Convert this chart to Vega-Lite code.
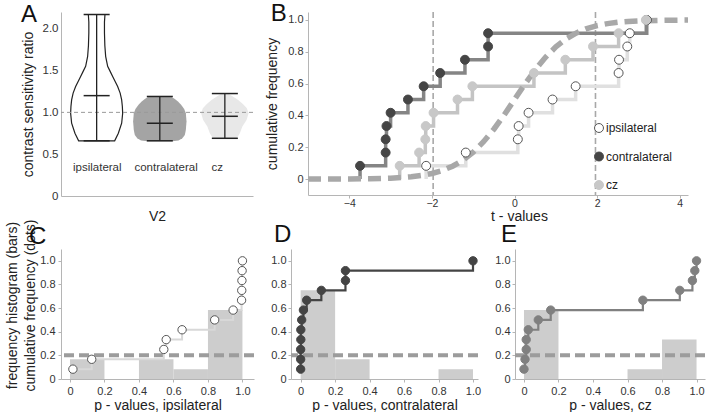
{
  "$schema": "https://vega.github.io/schema/vega-lite/v6.json",
  "background": "white",
  "padding": {"left": 5, "top": 2, "right": 0, "bottom": 0},
  "config": {
    "font": "Liberation Sans",
    "view": {"stroke": null},
    "axis": {"grid": false, "domainColor": "#b5b5b5", "tickColor": "#b5b5b5", "labelColor": "#333333", "titleColor": "#222222", "labelFontSize": 11, "titleFontSize": 14, "titleFontWeight": "normal", "labelFont": "Liberation Sans", "titleFont": "Liberation Sans", "tickSize": 3, "labelPadding": 2, "labelOverlap": false},
    "legend": {"labelFont": "Liberation Sans"}
  },
  "datasets": {
    "violin": [
      {"g": "ipsilateral", "v": 0.66, "lo": 0.212, "hi": 0.788},
      {"g": "ipsilateral", "v": 0.75, "lo": 0.153, "hi": 0.847},
      {"g": "ipsilateral", "v": 0.87, "lo": 0.1, "hi": 0.9},
      {"g": "ipsilateral", "v": 0.99, "lo": 0.084, "hi": 0.916},
      {"g": "ipsilateral", "v": 1.07, "lo": 0.089, "hi": 0.911},
      {"g": "ipsilateral", "v": 1.15, "lo": 0.1, "hi": 0.9},
      {"g": "ipsilateral", "v": 1.23, "lo": 0.124, "hi": 0.876},
      {"g": "ipsilateral", "v": 1.31, "lo": 0.164, "hi": 0.836},
      {"g": "ipsilateral", "v": 1.37, "lo": 0.204, "hi": 0.796},
      {"g": "ipsilateral", "v": 1.43, "lo": 0.244, "hi": 0.756},
      {"g": "ipsilateral", "v": 1.49, "lo": 0.284, "hi": 0.716},
      {"g": "ipsilateral", "v": 1.55, "lo": 0.324, "hi": 0.676},
      {"g": "ipsilateral", "v": 1.61, "lo": 0.34, "hi": 0.66},
      {"g": "ipsilateral", "v": 1.67, "lo": 0.356, "hi": 0.644},
      {"g": "ipsilateral", "v": 1.8, "lo": 0.369, "hi": 0.631},
      {"g": "ipsilateral", "v": 1.95, "lo": 0.375, "hi": 0.625},
      {"g": "ipsilateral", "v": 2.08, "lo": 0.375, "hi": 0.625},
      {"g": "ipsilateral", "v": 2.17, "lo": 0.367, "hi": 0.633},
      {"g": "contralateral", "v": 0.655, "lo": 1.31, "hi": 1.71},
      {"g": "contralateral", "v": 0.665, "lo": 1.21, "hi": 1.81},
      {"g": "contralateral", "v": 0.69, "lo": 1.15, "hi": 1.87},
      {"g": "contralateral", "v": 0.73, "lo": 1.11, "hi": 1.91},
      {"g": "contralateral", "v": 0.79, "lo": 1.094, "hi": 1.926},
      {"g": "contralateral", "v": 0.89, "lo": 1.083, "hi": 1.937},
      {"g": "contralateral", "v": 0.99, "lo": 1.094, "hi": 1.926},
      {"g": "contralateral", "v": 1.04, "lo": 1.12, "hi": 1.9},
      {"g": "contralateral", "v": 1.09, "lo": 1.17, "hi": 1.85},
      {"g": "contralateral", "v": 1.13, "lo": 1.22, "hi": 1.8},
      {"g": "contralateral", "v": 1.16, "lo": 1.27, "hi": 1.75},
      {"g": "contralateral", "v": 1.185, "lo": 1.32, "hi": 1.7},
      {"g": "contralateral", "v": 1.195, "lo": 1.36, "hi": 1.66},
      {"g": "cz", "v": 0.69, "lo": 2.36, "hi": 2.74},
      {"g": "cz", "v": 0.75, "lo": 2.31, "hi": 2.79},
      {"g": "cz", "v": 0.83, "lo": 2.27, "hi": 2.83},
      {"g": "cz", "v": 0.91, "lo": 2.203, "hi": 2.897},
      {"g": "cz", "v": 0.99, "lo": 2.171, "hi": 2.929},
      {"g": "cz", "v": 1.05, "lo": 2.198, "hi": 2.902},
      {"g": "cz", "v": 1.1, "lo": 2.262, "hi": 2.838},
      {"g": "cz", "v": 1.15, "lo": 2.342, "hi": 2.758},
      {"g": "cz", "v": 1.19, "lo": 2.422, "hi": 2.678},
      {"g": "cz", "v": 1.225, "lo": 2.5, "hi": 2.6}
    ],
    "whisk": [
      {"g": "ipsilateral", "c": 0.5, "lo": 0.66, "hi": 2.17},
      {"g": "contralateral", "c": 1.51, "lo": 0.66, "hi": 1.19},
      {"g": "cz", "c": 2.55, "lo": 0.69, "hi": 1.225}
    ],
    "caps": [
      {"g": "ipsilateral", "x1": 0.292, "x2": 0.708, "y": 0.66},
      {"g": "ipsilateral", "x1": 0.292, "x2": 0.708, "y": 2.17},
      {"g": "ipsilateral", "x1": 0.292, "x2": 0.708, "y": 1.2},
      {"g": "contralateral", "x1": 1.302, "x2": 1.718, "y": 0.66},
      {"g": "contralateral", "x1": 1.302, "x2": 1.718, "y": 1.19},
      {"g": "contralateral", "x1": 1.302, "x2": 1.718, "y": 0.87},
      {"g": "cz", "x1": 2.342, "x2": 2.758, "y": 0.69},
      {"g": "cz", "x1": 2.342, "x2": 2.758, "y": 1.225},
      {"g": "cz", "x1": 2.342, "x2": 2.758, "y": 0.953}
    ],
    "alabels": [
      {"label": "ipsilateral", "x": 0.51, "y": 0.33},
      {"label": "contralateral", "x": 1.61, "y": 0.33},
      {"label": "cz", "x": 2.43, "y": 0.33}
    ],
    "bcdf": [
      {"g": "contralateral", "t": -3.74, "f": 0},
      {"g": "contralateral", "t": -3.74, "f": 0.0833},
      {"g": "contralateral", "t": -3.12, "f": 0.1667},
      {"g": "contralateral", "t": -3.12, "f": 0.25},
      {"g": "contralateral", "t": -3.1, "f": 0.3333},
      {"g": "contralateral", "t": -3.0, "f": 0.4167},
      {"g": "contralateral", "t": -2.58, "f": 0.5},
      {"g": "contralateral", "t": -2.2, "f": 0.5833},
      {"g": "contralateral", "t": -1.8, "f": 0.6667},
      {"g": "contralateral", "t": -1.2, "f": 0.75},
      {"g": "contralateral", "t": -0.64, "f": 0.8333},
      {"g": "contralateral", "t": -0.64, "f": 0.9167},
      {"g": "contralateral", "t": 3.2, "f": 1.0},
      {"g": "ipsilateral", "t": -2.14, "f": 0},
      {"g": "ipsilateral", "t": -2.14, "f": 0.0833},
      {"g": "ipsilateral", "t": -1.18, "f": 0.1667},
      {"g": "ipsilateral", "t": 0.08, "f": 0.25},
      {"g": "ipsilateral", "t": 0.1, "f": 0.3333},
      {"g": "ipsilateral", "t": 0.34, "f": 0.4167},
      {"g": "ipsilateral", "t": 0.92, "f": 0.5},
      {"g": "ipsilateral", "t": 1.48, "f": 0.5833},
      {"g": "ipsilateral", "t": 2.52, "f": 0.6667},
      {"g": "ipsilateral", "t": 2.53, "f": 0.75},
      {"g": "ipsilateral", "t": 2.73, "f": 0.8333},
      {"g": "ipsilateral", "t": 2.79, "f": 0.9167},
      {"g": "ipsilateral", "t": 3.2, "f": 1.0},
      {"g": "cz", "t": -2.78, "f": 0},
      {"g": "cz", "t": -2.78, "f": 0.0833},
      {"g": "cz", "t": -2.31, "f": 0.1667},
      {"g": "cz", "t": -2.16, "f": 0.25},
      {"g": "cz", "t": -2.15, "f": 0.3333},
      {"g": "cz", "t": -1.96, "f": 0.4167},
      {"g": "cz", "t": -1.38, "f": 0.5},
      {"g": "cz", "t": -1.02, "f": 0.5833},
      {"g": "cz", "t": 0.47, "f": 0.6667},
      {"g": "cz", "t": 1.23, "f": 0.75},
      {"g": "cz", "t": 1.9, "f": 0.8333},
      {"g": "cz", "t": 2.52, "f": 0.9167},
      {"g": "cz", "t": 3.18, "f": 1.0}
    ],
    "tcurve": [
      {"t": -5.0, "f": 0.0002}, {"t": -4.5, "f": 0.0004}, {"t": -4.0, "f": 0.001}, {"t": -3.5, "f": 0.0025},
      {"t": -3.0, "f": 0.006}, {"t": -2.75, "f": 0.0094}, {"t": -2.5, "f": 0.0147}, {"t": -2.25, "f": 0.023},
      {"t": -2.0, "f": 0.0354}, {"t": -1.75, "f": 0.054}, {"t": -1.5, "f": 0.081}, {"t": -1.25, "f": 0.1186},
      {"t": -1.0, "f": 0.1694}, {"t": -0.75, "f": 0.2345}, {"t": -0.5, "f": 0.3135}, {"t": -0.25, "f": 0.4036},
      {"t": 0.0, "f": 0.5}, {"t": 0.25, "f": 0.5964}, {"t": 0.5, "f": 0.6865}, {"t": 0.75, "f": 0.7655},
      {"t": 1.0, "f": 0.8306}, {"t": 1.25, "f": 0.8814}, {"t": 1.5, "f": 0.919}, {"t": 1.75, "f": 0.946},
      {"t": 2.0, "f": 0.9646}, {"t": 2.25, "f": 0.977}, {"t": 2.5, "f": 0.9853}, {"t": 2.75, "f": 0.9906},
      {"t": 3.0, "f": 0.994}, {"t": 3.5, "f": 0.9975}, {"t": 4.0, "f": 0.999}, {"t": 4.2, "f": 0.9993}
    ],
    "hist": [
      {"panel": "C", "b0": 0.0, "b1": 0.2, "n": 0.1667},
      {"panel": "C", "b0": 0.4, "b1": 0.6, "n": 0.1667},
      {"panel": "C", "b0": 0.6, "b1": 0.8, "n": 0.0833},
      {"panel": "C", "b0": 0.8, "b1": 1.0, "n": 0.5833},
      {"panel": "D", "b0": 0.0, "b1": 0.2, "n": 0.75},
      {"panel": "D", "b0": 0.2, "b1": 0.4, "n": 0.1667},
      {"panel": "D", "b0": 0.8, "b1": 1.0, "n": 0.0833},
      {"panel": "E", "b0": 0.0, "b1": 0.2, "n": 0.5833},
      {"panel": "E", "b0": 0.6, "b1": 0.8, "n": 0.0833},
      {"panel": "E", "b0": 0.8, "b1": 1.0, "n": 0.3333}
    ],
    "pcdf": [
      {"panel": "C", "p": 0.017, "f": 0.0833}, {"panel": "C", "p": 0.126, "f": 0.1667}, {"panel": "C", "p": 0.544, "f": 0.25},
      {"panel": "C", "p": 0.558, "f": 0.3333}, {"panel": "C", "p": 0.65, "f": 0.4167}, {"panel": "C", "p": 0.839, "f": 0.5},
      {"panel": "C", "p": 0.946, "f": 0.5833}, {"panel": "C", "p": 0.995, "f": 0.6667}, {"panel": "C", "p": 0.996, "f": 0.75},
      {"panel": "C", "p": 0.997, "f": 0.8333}, {"panel": "C", "p": 0.998, "f": 0.9167}, {"panel": "C", "p": 1.0, "f": 1.0},
      {"panel": "D", "p": 0.0, "f": 0.0833}, {"panel": "D", "p": 0.0, "f": 0.1667}, {"panel": "D", "p": 0.0, "f": 0.25},
      {"panel": "D", "p": 0.001, "f": 0.3333}, {"panel": "D", "p": 0.001, "f": 0.4167}, {"panel": "D", "p": 0.006, "f": 0.5},
      {"panel": "D", "p": 0.016, "f": 0.5833}, {"panel": "D", "p": 0.035, "f": 0.6667}, {"panel": "D", "p": 0.12, "f": 0.75},
      {"panel": "D", "p": 0.26, "f": 0.8333}, {"panel": "D", "p": 0.26, "f": 0.9167}, {"panel": "D", "p": 1.0, "f": 1.0},
      {"panel": "E", "p": 0.0, "f": 0.0833}, {"panel": "E", "p": 0.006, "f": 0.1667}, {"panel": "E", "p": 0.013, "f": 0.25},
      {"panel": "E", "p": 0.013, "f": 0.3333}, {"panel": "E", "p": 0.025, "f": 0.4167}, {"panel": "E", "p": 0.083, "f": 0.5},
      {"panel": "E", "p": 0.155, "f": 0.5833}, {"panel": "E", "p": 0.689, "f": 0.6667}, {"panel": "E", "p": 0.903, "f": 0.75},
      {"panel": "E", "p": 0.976, "f": 0.8333}, {"panel": "E", "p": 0.99, "f": 0.9167}, {"panel": "E", "p": 1.0, "f": 1.0}
    ]
  },
  "concat": [
    {
      "hconcat": [
        {
          "width": 192,
          "height": 184,
          "layer": [
            {
              "data": {"name": "violin"},
              "mark": {"type": "area", "orient": "horizontal", "strokeWidth": 1.2},
              "encoding": {
                "y": {"field": "v", "type": "quantitative", "scale": {"domain": [0, 2.2], "nice": false, "zero": false},
                  "axis": {"values": [0, 0.5, 1, 1.5, 2], "labelExpr": "datum.value == 0 ? '0' : format(datum.value, '.1f')", "labelOverlap": false, "labelFontSize": 11.5, "title": ["", "contrast sensitivity ratio"], "titleLineHeight": 8, "tickSize": 0, "labelPadding": 3, "titlePadding": 7}},
                "x": {"field": "lo", "type": "quantitative", "scale": {"domain": [-0.07, 3.0], "nice": false, "zero": false},
                  "axis": {"title": "V2", "labels": false, "ticks": false, "titlePadding": 13}},
                "x2": {"field": "hi"},
                "fill": {"field": "g", "type": "nominal", "scale": {"domain": ["ipsilateral", "contralateral", "cz"], "range": ["#ffffff", "#a4a4a4", "#e8e8e8"]}, "legend": null},
                "stroke": {"field": "g", "type": "nominal", "scale": {"domain": ["ipsilateral", "contralateral", "cz"], "range": ["#222222", "rgba(0,0,0,0)", "rgba(0,0,0,0)"]}, "legend": null}
              }
            },
            {
              "data": {"values": [{"ref": 1}]},
              "mark": {"type": "rule", "strokeDash": [4, 3], "color": "#9a9a9a", "strokeWidth": 1},
              "encoding": {"y": {"field": "ref", "type": "quantitative"}}
            },
            {
              "data": {"name": "whisk"},
              "mark": {"type": "rule", "color": "#222222", "strokeWidth": 1.3},
              "encoding": {"x": {"field": "c", "type": "quantitative"}, "y": {"field": "lo", "type": "quantitative"}, "y2": {"field": "hi"}}
            },
            {
              "data": {"name": "caps"},
              "mark": {"type": "rule", "color": "#222222", "strokeWidth": 1.5},
              "encoding": {"x": {"field": "x1", "type": "quantitative"}, "x2": {"field": "x2"}, "y": {"field": "y", "type": "quantitative"}}
            },
            {
              "data": {"name": "alabels"},
              "mark": {"type": "text", "fontSize": 11.5, "color": "#333333", "baseline": "middle", "align": "center"},
              "encoding": {"x": {"field": "x", "type": "quantitative"}, "y": {"field": "y", "type": "quantitative"}, "text": {"field": "label"}}
            },
            {
              "data": {"values": [{}]},
              "mark": {"type": "text", "fontSize": 24, "color": "#111111", "baseline": "alphabetic", "align": "left"},
              "encoding": {"x": {"datum": -0.71}, "y": {"datum": 2.086}, "text": {"value": "A"}}
            }
          ]
        },
        {
          "width": 380,
          "height": 183,
          "layer": [
            {
              "data": {"values": [{"crit": -1.97}, {"crit": 1.96}]},
              "mark": {"type": "rule", "strokeDash": [6, 3], "color": "#a8a8a8", "strokeWidth": 1.6},
              "encoding": {"x": {"field": "crit", "type": "quantitative", "scale": {"domain": [-5, 4.2], "nice": false, "zero": false},
                  "axis": {"values": [-4, -2, 0, 2, 4], "labelOverlap": false, "labelFontSize": 10.5, "title": "t - values", "labelPadding": 0, "titlePadding": 1, "titleX": 211, "titleAlign": "center"}}}
            },
            {
              "data": {"name": "bcdf"},
              "transform": [{"filter": {"field": "g", "equal": "ipsilateral"}}],
              "mark": {"type": "line", "interpolate": "step-after", "color": "#e0e0e0", "strokeWidth": 3.5},
              "encoding": {"x": {"field": "t", "type": "quantitative"},
                "y": {"field": "f", "type": "quantitative", "scale": {"domain": [-0.1, 1.05], "nice": false, "zero": false},
                  "axis": {"tickCount": 6, "labelExpr": "datum.value == 0 ? '0' : format(datum.value, '.1f')", "labelOverlap": false, "title": "cumulative frequency", "titlePadding": 8}},
                "order": {"field": "f", "type": "quantitative"}}
            },
            {
              "data": {"name": "bcdf"},
              "transform": [{"filter": {"field": "g", "equal": "cz"}}],
              "mark": {"type": "line", "interpolate": "step-after", "color": "#c4c4c4", "strokeWidth": 3.5},
              "encoding": {"x": {"field": "t", "type": "quantitative"}, "y": {"field": "f", "type": "quantitative"}, "order": {"field": "f", "type": "quantitative"}}
            },
            {
              "data": {"name": "bcdf"},
              "transform": [{"filter": {"field": "g", "equal": "contralateral"}}],
              "mark": {"type": "line", "interpolate": "step-after", "color": "#858585", "strokeWidth": 3.5},
              "encoding": {"x": {"field": "t", "type": "quantitative"}, "y": {"field": "f", "type": "quantitative"}, "order": {"field": "f", "type": "quantitative"}}
            },
            {
              "data": {"name": "tcurve"},
              "mark": {"type": "line", "color": "#a8a8a8", "strokeWidth": 5.5, "strokeDash": [13, 7]},
              "encoding": {"x": {"field": "t", "type": "quantitative"}, "y": {"field": "f", "type": "quantitative"}}
            },
            {
              "data": {"name": "bcdf"},
              "transform": [{"filter": "datum.f > 0"}],
              "mark": {"type": "circle", "size": 80, "strokeWidth": 1, "opacity": 1},
              "encoding": {
                "x": {"field": "t", "type": "quantitative"},
                "y": {"field": "f", "type": "quantitative"},
                "fill": {"field": "g", "type": "nominal", "scale": {"domain": ["ipsilateral", "contralateral", "cz"], "range": ["#ffffff", "#454545", "#c8c8c8"]},
                  "legend": {"orient": "none", "legendX": 285, "legendY": 110, "title": null, "labelFontSize": 12, "labelColor": "#222222", "symbolSize": 80, "symbolType": "circle", "rowPadding": 14.5, "labelOffset": 1, "padding": 0, "symbolStrokeWidth": 1}},
                "stroke": {"field": "g", "type": "nominal", "scale": {"domain": ["ipsilateral", "contralateral", "cz"], "range": ["#555555", "#454545", "#c8c8c8"]}}
              }
            },
            {
              "data": {"values": [{}]},
              "mark": {"type": "text", "fontSize": 24, "color": "#111111", "baseline": "alphabetic", "align": "left"},
              "encoding": {"x": {"datum": -5.9}, "y": {"datum": 0.993}, "text": {"value": "B"}}
            }
          ]
        }
      ],
      "spacing": 55,
      "bounds": "flush",
      "resolve": {"scale": {"fill": "independent", "stroke": "independent"}, "legend": {"fill": "independent", "stroke": "independent"}}
    },
    {
      "hconcat": [
        {
          "width": 193,
          "height": 130,
          "layer": [
            {
              "data": {"name": "hist"},
              "transform": [{"filter": {"field": "panel", "equal": "C"}}],
              "mark": {"type": "rect", "color": "#cdcdcd"},
              "encoding": {
                "x": {"field": "b0", "type": "quantitative", "scale": {"domain": [-0.052, 1.067], "nice": false, "zero": false},
                  "axis": {"tickCount": 6, "labelExpr": "datum.value == 0 ? '0' : format(datum.value, '.1f')", "labelOverlap": false, "title": "p - values, ipsilateral", "labelPadding": 3, "titlePadding": 2}},
                "x2": {"field": "b1"},
                "y": {"field": "n", "type": "quantitative", "scale": {"domain": [0, 1.1], "nice": false, "zero": false},
                  "axis": {"tickCount": 6, "labelExpr": "datum.value == 0 ? '0' : format(datum.value, '.1f')", "labelOverlap": false, "title": ["frequency histogram  (bars)", "cumulative frequency (dots)"], "titleLineHeight": 18, "labelPadding": 3, "titlePadding": 2, "titleY": 56}},
                "y2": {"datum": 0}
              }
            },
            {
              "data": {"values": [{"ref": 0.2}]},
              "mark": {"type": "rule", "color": "#9c9c9c", "strokeWidth": 4, "strokeDash": [10, 5]},
              "encoding": {"y": {"field": "ref", "type": "quantitative"}}
            },
            {
              "data": {"name": "pcdf"},
              "transform": [{"filter": {"field": "panel", "equal": "C"}}],
              "mark": {"type": "line", "interpolate": "step-after", "color": "#d8d8d8", "strokeWidth": 2},
              "encoding": {"x": {"field": "p", "type": "quantitative"}, "y": {"field": "f", "type": "quantitative"}, "order": {"field": "f", "type": "quantitative"}}
            },
            {
              "data": {"name": "pcdf"},
              "transform": [{"filter": {"field": "panel", "equal": "C"}}],
              "mark": {"type": "circle", "size": 70, "fill": "#ffffff", "stroke": "#555555", "strokeWidth": 1, "opacity": 1},
              "encoding": {"x": {"field": "p", "type": "quantitative"}, "y": {"field": "f", "type": "quantitative"}}
            },
            {
              "data": {"values": [{}]},
              "mark": {"type": "text", "fontSize": 24, "color": "#111111", "baseline": "alphabetic", "align": "left"},
              "encoding": {"x": {"datum": -0.237}, "y": {"datum": 1.142}, "text": {"value": "C"}}
            }
          ]
        },
        {
          "width": 187,
          "height": 130,
          "layer": [
            {
              "data": {"name": "hist"},
              "transform": [{"filter": {"field": "panel", "equal": "D"}}],
              "mark": {"type": "rect", "color": "#cdcdcd"},
              "encoding": {
                "x": {"field": "b0", "type": "quantitative", "scale": {"domain": [-0.056, 1.029], "nice": false, "zero": false},
                  "axis": {"tickCount": 6, "labelExpr": "datum.value == 0 ? '0' : format(datum.value, '.1f')", "labelOverlap": false, "title": "p - values, contralateral", "labelPadding": 3, "titlePadding": 2}},
                "x2": {"field": "b1"},
                "y": {"field": "n", "type": "quantitative", "scale": {"domain": [0, 1.1], "nice": false, "zero": false},
                  "axis": {"tickCount": 6, "labelExpr": "datum.value == 0 ? '0' : format(datum.value, '.1f')", "labelOverlap": false, "title": null, "labelPadding": 2}},
                "y2": {"datum": 0}
              }
            },
            {
              "data": {"values": [{"ref": 0.2}]},
              "mark": {"type": "rule", "color": "#9c9c9c", "strokeWidth": 4, "strokeDash": [10, 5]},
              "encoding": {"y": {"field": "ref", "type": "quantitative"}}
            },
            {
              "data": {"name": "pcdf"},
              "transform": [{"filter": {"field": "panel", "equal": "D"}}],
              "mark": {"type": "line", "interpolate": "step-after", "color": "#444444", "strokeWidth": 2.2},
              "encoding": {"x": {"field": "p", "type": "quantitative"}, "y": {"field": "f", "type": "quantitative"}, "order": {"field": "f", "type": "quantitative"}}
            },
            {
              "data": {"name": "pcdf"},
              "transform": [{"filter": {"field": "panel", "equal": "D"}}],
              "mark": {"type": "circle", "size": 70, "fill": "#444444", "stroke": "#444444", "strokeWidth": 1, "opacity": 1},
              "encoding": {"x": {"field": "p", "type": "quantitative"}, "y": {"field": "f", "type": "quantitative"}}
            },
            {
              "data": {"values": [{}]},
              "mark": {"type": "text", "fontSize": 24, "color": "#111111", "baseline": "alphabetic", "align": "left"},
              "encoding": {"x": {"datum": -0.155}, "y": {"datum": 1.159}, "text": {"value": "D"}}
            }
          ]
        },
        {
          "width": 190,
          "height": 130,
          "layer": [
            {
              "data": {"name": "hist"},
              "transform": [{"filter": {"field": "panel", "equal": "E"}}],
              "mark": {"type": "rect", "color": "#cdcdcd"},
              "encoding": {
                "x": {"field": "b0", "type": "quantitative", "scale": {"domain": [-0.052, 1.049], "nice": false, "zero": false},
                  "axis": {"tickCount": 6, "labelExpr": "datum.value == 0 ? '0' : format(datum.value, '.1f')", "labelOverlap": false, "title": "p - values, cz", "labelPadding": 3, "titlePadding": 2}},
                "x2": {"field": "b1"},
                "y": {"field": "n", "type": "quantitative", "scale": {"domain": [0, 1.1], "nice": false, "zero": false},
                  "axis": {"tickCount": 6, "labelExpr": "datum.value == 0 ? '0' : format(datum.value, '.1f')", "labelOverlap": false, "title": null, "labelPadding": 2}},
                "y2": {"datum": 0}
              }
            },
            {
              "data": {"values": [{"ref": 0.2}]},
              "mark": {"type": "rule", "color": "#9c9c9c", "strokeWidth": 4, "strokeDash": [10, 5]},
              "encoding": {"y": {"field": "ref", "type": "quantitative"}}
            },
            {
              "data": {"name": "pcdf"},
              "transform": [{"filter": {"field": "panel", "equal": "E"}}],
              "mark": {"type": "line", "interpolate": "step-after", "color": "#808080", "strokeWidth": 2.2},
              "encoding": {"x": {"field": "p", "type": "quantitative"}, "y": {"field": "f", "type": "quantitative"}, "order": {"field": "f", "type": "quantitative"}}
            },
            {
              "data": {"name": "pcdf"},
              "transform": [{"filter": {"field": "panel", "equal": "E"}}],
              "mark": {"type": "circle", "size": 70, "fill": "#808080", "stroke": "#808080", "strokeWidth": 1, "opacity": 1},
              "encoding": {"x": {"field": "p", "type": "quantitative"}, "y": {"field": "f", "type": "quantitative"}}
            },
            {
              "data": {"values": [{}]},
              "mark": {"type": "text", "fontSize": 24, "color": "#111111", "baseline": "alphabetic", "align": "left"},
              "encoding": {"x": {"datum": -0.133}, "y": {"datum": 1.159}, "text": {"value": "E"}}
            }
          ]
        }
      ],
      "spacing": 37,
      "bounds": "flush"
    }
  ],
  "columns": 1,
  "align": "none",
  "spacing": -5,
  "resolve": {"scale": {"fill": "independent", "stroke": "independent"}}
}
